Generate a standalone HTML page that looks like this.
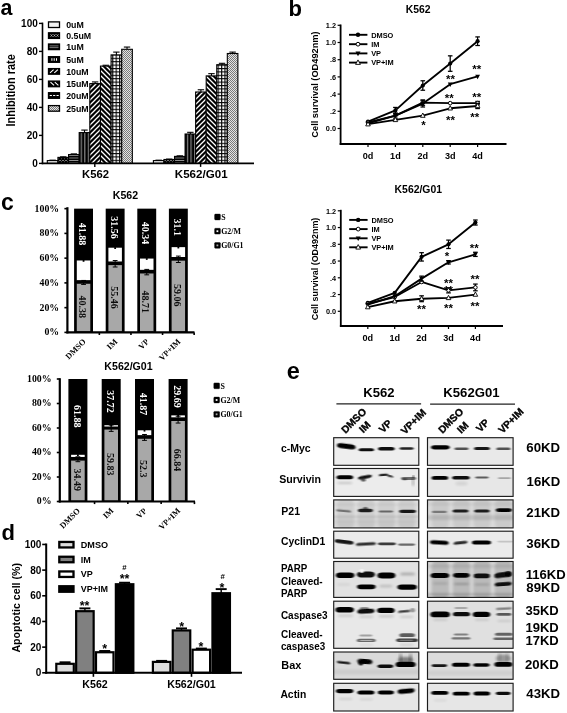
<!DOCTYPE html>
<html><head><meta charset="utf-8"><title>Figure</title>
<style>
html,body{margin:0;padding:0;background:#fff;}
svg{display:block;}
.s{font-family:'Liberation Sans',Arial,sans-serif;font-weight:bold;}
.t{font-family:'Liberation Serif','Times New Roman',serif;font-weight:bold;}
</style></head><body>
<svg width="567" height="713" viewBox="0 0 567 713">
<defs>
<pattern id="pCross" width="3" height="3" patternUnits="userSpaceOnUse"><rect width="3" height="3" fill="#ddd"/><path d="M0 0L3 3M3 0L0 3" stroke="#000" stroke-width="1.35"/></pattern>
<pattern id="pHor" width="3" height="2.4" patternUnits="userSpaceOnUse"><rect width="3" height="2.4" fill="#bbb"/><rect width="3" height="1.7" fill="#000"/></pattern>
<pattern id="pVer" width="3.54" height="3" patternUnits="userSpaceOnUse" x="1.9"><rect width="3.54" height="3" fill="#000"/><rect x="1.2" width="0.8" height="3" fill="#ccc"/></pattern>
<pattern id="pDiagUp" width="5" height="5" patternUnits="userSpaceOnUse"><rect width="5" height="5" fill="#000"/><path d="M-1 6L6 -1M-1 1L1 -1M4 6L6 4" stroke="#fff" stroke-width="1.3"/></pattern>
<pattern id="pDiagDn" width="5" height="5" patternUnits="userSpaceOnUse"><rect width="5" height="5" fill="#000"/><path d="M-1 -1L6 6M-1 4L1 6M4 -1L6 1" stroke="#fff" stroke-width="1.3"/></pattern>
<pattern id="pGrid" width="3.4" height="3.4" patternUnits="userSpaceOnUse"><rect width="3.4" height="3.4" fill="#fff"/><path d="M0 0.6H3.4M0.6 0V3.4" stroke="#000" stroke-width="1.1"/></pattern>
<pattern id="pDots" width="2" height="2" patternUnits="userSpaceOnUse"><rect width="2" height="2" fill="#e4e4e4"/><rect width="1" height="1" fill="#7a7a7a"/><rect x="1" y="1" width="1" height="1" fill="#7a7a7a"/></pattern>
<filter id="bl" x="-20%" y="-100%" width="140%" height="300%"><feGaussianBlur stdDeviation="0.85 0.6"/></filter>
<filter id="bl2" x="-20%" y="-100%" width="140%" height="300%"><feGaussianBlur stdDeviation="1.6 1.2"/></filter>
<filter id="soft"><feGaussianBlur stdDeviation="0.35"/></filter>
<linearGradient id="bg1" x1="0" y1="0" x2="0" y2="1"><stop offset="0" stop-color="#ececec"/><stop offset="1" stop-color="#e0e0e0"/></linearGradient>
</defs>
<rect width="567" height="713" fill="#fff"/>
<g filter="url(#soft)">

<g id="panel-a">
<text x="0.60" y="14.50" font-size="21.4" class="s">a</text>
<rect x="47.30" y="160.60" width="10.63" height="2.80" fill="#f4f4f4" stroke="#000" stroke-width="1.1"/>
<line x1="52.61" y1="160.60" x2="52.61" y2="160.18" stroke="#000" stroke-width="1.1"/>
<line x1="49.41" y1="160.18" x2="55.81" y2="160.18" stroke="#000" stroke-width="1.1"/>
<rect x="57.93" y="157.38" width="10.63" height="6.02" fill="url(#pCross)" stroke="#000" stroke-width="1.1"/>
<line x1="63.24" y1="157.38" x2="63.24" y2="156.82" stroke="#000" stroke-width="1.1"/>
<line x1="60.04" y1="156.82" x2="66.44" y2="156.82" stroke="#000" stroke-width="1.1"/>
<rect x="68.56" y="154.58" width="10.63" height="8.82" fill="url(#pHor)" stroke="#000" stroke-width="1.1"/>
<line x1="73.88" y1="154.58" x2="73.88" y2="153.88" stroke="#000" stroke-width="1.1"/>
<line x1="70.67" y1="153.88" x2="77.08" y2="153.88" stroke="#000" stroke-width="1.1"/>
<rect x="79.19" y="132.60" width="10.63" height="30.80" fill="url(#pVer)" stroke="#000" stroke-width="1.1"/>
<line x1="84.50" y1="132.60" x2="84.50" y2="130.08" stroke="#000" stroke-width="1.1"/>
<line x1="81.30" y1="130.08" x2="87.70" y2="130.08" stroke="#000" stroke-width="1.1"/>
<rect x="89.82" y="83.60" width="10.63" height="79.80" fill="url(#pDiagUp)" stroke="#000" stroke-width="1.1"/>
<line x1="95.13" y1="83.60" x2="95.13" y2="81.92" stroke="#000" stroke-width="1.1"/>
<line x1="91.93" y1="81.92" x2="98.33" y2="81.92" stroke="#000" stroke-width="1.1"/>
<rect x="100.45" y="66.10" width="10.63" height="97.30" fill="url(#pDiagDn)" stroke="#000" stroke-width="1.1"/>
<line x1="105.77" y1="66.10" x2="105.77" y2="65.26" stroke="#000" stroke-width="1.1"/>
<line x1="102.56" y1="65.26" x2="108.97" y2="65.26" stroke="#000" stroke-width="1.1"/>
<rect x="111.08" y="54.90" width="10.63" height="108.50" fill="url(#pGrid)" stroke="#000" stroke-width="1.1"/>
<line x1="116.39" y1="54.90" x2="116.39" y2="52.10" stroke="#000" stroke-width="1.1"/>
<line x1="113.19" y1="52.10" x2="119.59" y2="52.10" stroke="#000" stroke-width="1.1"/>
<rect x="121.71" y="49.30" width="10.63" height="114.10" fill="url(#pDots)" stroke="#000" stroke-width="1.1"/>
<line x1="127.03" y1="49.30" x2="127.03" y2="47.06" stroke="#000" stroke-width="1.1"/>
<line x1="123.83" y1="47.06" x2="130.22" y2="47.06" stroke="#000" stroke-width="1.1"/>
<rect x="153.40" y="160.60" width="10.56" height="2.80" fill="#f4f4f4" stroke="#000" stroke-width="1.1"/>
<line x1="158.68" y1="160.60" x2="158.68" y2="160.18" stroke="#000" stroke-width="1.1"/>
<line x1="155.48" y1="160.18" x2="161.88" y2="160.18" stroke="#000" stroke-width="1.1"/>
<rect x="163.96" y="159.48" width="10.56" height="3.92" fill="url(#pCross)" stroke="#000" stroke-width="1.1"/>
<line x1="169.24" y1="159.48" x2="169.24" y2="159.06" stroke="#000" stroke-width="1.1"/>
<line x1="166.04" y1="159.06" x2="172.44" y2="159.06" stroke="#000" stroke-width="1.1"/>
<rect x="174.52" y="156.40" width="10.56" height="7.00" fill="url(#pHor)" stroke="#000" stroke-width="1.1"/>
<line x1="179.80" y1="156.40" x2="179.80" y2="155.84" stroke="#000" stroke-width="1.1"/>
<line x1="176.60" y1="155.84" x2="183.00" y2="155.84" stroke="#000" stroke-width="1.1"/>
<rect x="185.08" y="134.00" width="10.56" height="29.40" fill="url(#pVer)" stroke="#000" stroke-width="1.1"/>
<line x1="190.36" y1="134.00" x2="190.36" y2="132.32" stroke="#000" stroke-width="1.1"/>
<line x1="187.16" y1="132.32" x2="193.56" y2="132.32" stroke="#000" stroke-width="1.1"/>
<rect x="195.64" y="92.00" width="10.56" height="71.40" fill="url(#pDiagUp)" stroke="#000" stroke-width="1.1"/>
<line x1="200.92" y1="92.00" x2="200.92" y2="89.76" stroke="#000" stroke-width="1.1"/>
<line x1="197.72" y1="89.76" x2="204.12" y2="89.76" stroke="#000" stroke-width="1.1"/>
<rect x="206.20" y="75.90" width="10.56" height="87.50" fill="url(#pDiagDn)" stroke="#000" stroke-width="1.1"/>
<line x1="211.48" y1="75.90" x2="211.48" y2="73.66" stroke="#000" stroke-width="1.1"/>
<line x1="208.28" y1="73.66" x2="214.68" y2="73.66" stroke="#000" stroke-width="1.1"/>
<rect x="216.76" y="64.70" width="10.56" height="98.70" fill="url(#pGrid)" stroke="#000" stroke-width="1.1"/>
<line x1="222.04" y1="64.70" x2="222.04" y2="63.30" stroke="#000" stroke-width="1.1"/>
<line x1="218.84" y1="63.30" x2="225.24" y2="63.30" stroke="#000" stroke-width="1.1"/>
<rect x="227.32" y="53.50" width="10.56" height="109.90" fill="url(#pDots)" stroke="#000" stroke-width="1.1"/>
<line x1="232.60" y1="53.50" x2="232.60" y2="52.10" stroke="#000" stroke-width="1.1"/>
<line x1="229.40" y1="52.10" x2="235.80" y2="52.10" stroke="#000" stroke-width="1.1"/>
<line x1="42.50" y1="22.60" x2="42.50" y2="164.20" stroke="#000" stroke-width="1.6"/>
<line x1="41.70" y1="163.40" x2="254.00" y2="163.40" stroke="#000" stroke-width="1.6"/>
<line x1="39.00" y1="163.40" x2="42.50" y2="163.40" stroke="#000" stroke-width="1.4"/>
<text x="37.80" y="166.90" font-size="10" class="s" text-anchor="end">0</text>
<line x1="39.00" y1="135.40" x2="42.50" y2="135.40" stroke="#000" stroke-width="1.4"/>
<text x="37.80" y="138.90" font-size="10" class="s" text-anchor="end">20</text>
<line x1="39.00" y1="107.40" x2="42.50" y2="107.40" stroke="#000" stroke-width="1.4"/>
<text x="37.80" y="110.90" font-size="10" class="s" text-anchor="end">40</text>
<line x1="39.00" y1="79.40" x2="42.50" y2="79.40" stroke="#000" stroke-width="1.4"/>
<text x="37.80" y="82.90" font-size="10" class="s" text-anchor="end">60</text>
<line x1="39.00" y1="51.40" x2="42.50" y2="51.40" stroke="#000" stroke-width="1.4"/>
<text x="37.80" y="54.90" font-size="10" class="s" text-anchor="end">80</text>
<line x1="39.00" y1="23.40" x2="42.50" y2="23.40" stroke="#000" stroke-width="1.4"/>
<text x="37.80" y="26.90" font-size="10" class="s" text-anchor="end">100</text>
<line x1="94.80" y1="163.40" x2="94.80" y2="166.90" stroke="#000" stroke-width="1.4"/>
<line x1="200.60" y1="163.40" x2="200.60" y2="166.90" stroke="#000" stroke-width="1.4"/>
<text x="95.50" y="177.60" font-size="11.3" class="s" text-anchor="middle" textLength="27" lengthAdjust="spacingAndGlyphs">K562</text>
<text x="201.20" y="177.60" font-size="11.3" class="s" text-anchor="middle" textLength="52.8" lengthAdjust="spacingAndGlyphs">K562/G01</text>
<text x="14.60" y="90.40" font-size="12.0" class="s" text-anchor="middle" transform="rotate(-90 14.60 90.40)" textLength="72.2" lengthAdjust="spacingAndGlyphs">Inhibition rate</text>
<rect x="48.50" y="21.90" width="11.00" height="5.60" fill="#f4f4f4" stroke="#000" stroke-width="1.3"/>
<text x="66.20" y="27.80" font-size="8.8" class="s">0uM</text>
<rect x="48.50" y="32.80" width="11.00" height="5.60" fill="#000" stroke="#000" stroke-width="1.3"/>
<path d="M50.5 34.300000000000004l2 2.4M52.5 34.300000000000004l-2 2.4M53.5 34.300000000000004l2 2.4M55.5 34.300000000000004l-2 2.4M56.5 34.300000000000004l2 2.4M58.5 34.300000000000004l-2 2.4" stroke="#bbb" stroke-width="0.8" fill="none"/>
<text x="66.20" y="38.70" font-size="8.8" class="s">0.5uM</text>
<rect x="48.50" y="44.00" width="11.00" height="5.60" fill="#000" stroke="#000" stroke-width="1.3"/>
<path d="M49.5 45.9h9.0M49.5 47.6h9.0" stroke="#aaa" stroke-width="0.7" fill="none"/>
<text x="66.20" y="49.90" font-size="8.8" class="s">1uM</text>
<rect x="48.50" y="56.70" width="11.00" height="5.60" fill="#000" stroke="#000" stroke-width="1.3"/>
<path d="M51.9 58.2v2.6M54.2 58.2v2.6M56.5 58.2v2.6" stroke="#fff" stroke-width="1.0" fill="none"/>
<text x="66.20" y="62.60" font-size="8.8" class="s">5uM</text>
<rect x="48.50" y="68.60" width="11.00" height="5.60" fill="#000" stroke="#000" stroke-width="1.3"/>
<path d="M50.0 72.9l3.6 -3.2M54.3 72.9l3.6 -3.2" stroke="#fff" stroke-width="1.1" fill="none"/>
<text x="66.20" y="74.50" font-size="8.8" class="s">10uM</text>
<rect x="48.50" y="81.10" width="11.00" height="5.60" fill="#000" stroke="#000" stroke-width="1.3"/>
<path d="M50.5 82.2l3.6 3.2M54.8 82.2l3.6 3.2" stroke="#fff" stroke-width="1.1" fill="none"/>
<text x="66.20" y="87.00" font-size="8.8" class="s">15uM</text>
<rect x="48.50" y="92.70" width="11.00" height="5.60" fill="#000" stroke="#000" stroke-width="1.3"/>
<path d="M49.7 95.5h2.2M53.1 95.5h2.2M56.5 95.5h2.2" stroke="#fff" stroke-width="1.2" fill="none"/>
<text x="66.20" y="98.60" font-size="8.8" class="s">20uM</text>
<rect x="48.50" y="105.60" width="11.00" height="5.60" fill="url(#pDots)" stroke="#000" stroke-width="1.3"/>
<text x="66.20" y="111.50" font-size="8.8" class="s">25uM</text>
</g>
<text x="288.60" y="16.40" font-size="22" class="s">b</text>
<g>
<text x="418.20" y="13.20" font-size="10.4" class="s" text-anchor="middle">K562</text>
<line x1="340.60" y1="24.50" x2="340.60" y2="144.90" stroke="#000" stroke-width="1.8"/>
<line x1="339.70" y1="144.00" x2="506.50" y2="144.00" stroke="#000" stroke-width="1.8"/>
<line x1="337.60" y1="128.50" x2="340.60" y2="128.50" stroke="#000" stroke-width="1.2"/>
<text x="336.00" y="131.20" font-size="7.3" class="s" text-anchor="end">0.0</text>
<line x1="337.60" y1="111.30" x2="340.60" y2="111.30" stroke="#000" stroke-width="1.2"/>
<text x="336.00" y="114.00" font-size="7.3" class="s" text-anchor="end">.2</text>
<line x1="337.60" y1="94.10" x2="340.60" y2="94.10" stroke="#000" stroke-width="1.2"/>
<text x="336.00" y="96.80" font-size="7.3" class="s" text-anchor="end">.4</text>
<line x1="337.60" y1="76.90" x2="340.60" y2="76.90" stroke="#000" stroke-width="1.2"/>
<text x="336.00" y="79.60" font-size="7.3" class="s" text-anchor="end">.6</text>
<line x1="337.60" y1="59.70" x2="340.60" y2="59.70" stroke="#000" stroke-width="1.2"/>
<text x="336.00" y="62.40" font-size="7.3" class="s" text-anchor="end">.8</text>
<line x1="337.60" y1="42.50" x2="340.60" y2="42.50" stroke="#000" stroke-width="1.2"/>
<text x="336.00" y="45.20" font-size="7.3" class="s" text-anchor="end">1.0</text>
<line x1="337.60" y1="25.30" x2="340.60" y2="25.30" stroke="#000" stroke-width="1.2"/>
<text x="336.00" y="28.00" font-size="7.3" class="s" text-anchor="end">1.2</text>
<line x1="368.00" y1="144.00" x2="368.00" y2="147.00" stroke="#000" stroke-width="1.2"/>
<text x="368.00" y="158.90" font-size="9.1" class="s" text-anchor="middle">0d</text>
<line x1="395.40" y1="144.00" x2="395.40" y2="147.00" stroke="#000" stroke-width="1.2"/>
<text x="395.40" y="158.90" font-size="9.1" class="s" text-anchor="middle">1d</text>
<line x1="422.80" y1="144.00" x2="422.80" y2="147.00" stroke="#000" stroke-width="1.2"/>
<text x="422.80" y="158.90" font-size="9.1" class="s" text-anchor="middle">2d</text>
<line x1="450.20" y1="144.00" x2="450.20" y2="147.00" stroke="#000" stroke-width="1.2"/>
<text x="450.20" y="158.90" font-size="9.1" class="s" text-anchor="middle">3d</text>
<line x1="477.60" y1="144.00" x2="477.60" y2="147.00" stroke="#000" stroke-width="1.2"/>
<text x="477.60" y="158.90" font-size="9.1" class="s" text-anchor="middle">4d</text>
<text x="318.00" y="84.50" font-size="8.7" class="s" text-anchor="middle" transform="rotate(-90 318.00 84.50)" textLength="106.3" lengthAdjust="spacingAndGlyphs">Cell survival (OD492nm)</text>
<polyline points="368.00,121.62 395.40,110.44 422.80,85.50 450.20,63.57 477.60,41.21" fill="none" stroke="#000" stroke-width="1.85" stroke-linejoin="round"/>
<line x1="395.40" y1="113.45" x2="395.40" y2="107.43" stroke="#000" stroke-width="1.25"/>
<line x1="393.10" y1="107.43" x2="397.70" y2="107.43" stroke="#000" stroke-width="1.25"/>
<line x1="393.10" y1="113.45" x2="397.70" y2="113.45" stroke="#000" stroke-width="1.25"/>
<line x1="422.80" y1="90.23" x2="422.80" y2="80.77" stroke="#000" stroke-width="1.25"/>
<line x1="420.50" y1="80.77" x2="425.10" y2="80.77" stroke="#000" stroke-width="1.25"/>
<line x1="420.50" y1="90.23" x2="425.10" y2="90.23" stroke="#000" stroke-width="1.25"/>
<line x1="450.20" y1="71.31" x2="450.20" y2="55.83" stroke="#000" stroke-width="1.25"/>
<line x1="447.90" y1="55.83" x2="452.50" y2="55.83" stroke="#000" stroke-width="1.25"/>
<line x1="447.90" y1="71.31" x2="452.50" y2="71.31" stroke="#000" stroke-width="1.25"/>
<line x1="477.60" y1="45.51" x2="477.60" y2="36.91" stroke="#000" stroke-width="1.25"/>
<line x1="475.30" y1="36.91" x2="479.90" y2="36.91" stroke="#000" stroke-width="1.25"/>
<line x1="475.30" y1="45.51" x2="479.90" y2="45.51" stroke="#000" stroke-width="1.25"/>
<circle cx="368.00" cy="121.62" r="2.1" fill="#000"/>
<circle cx="395.40" cy="110.44" r="2.1" fill="#000"/>
<circle cx="422.80" cy="85.50" r="2.1" fill="#000"/>
<circle cx="450.20" cy="63.57" r="2.1" fill="#000"/>
<circle cx="477.60" cy="41.21" r="2.1" fill="#000"/>
<polyline points="368.00,122.48 395.40,115.60 422.80,102.70 450.20,103.13 477.60,103.13" fill="none" stroke="#000" stroke-width="1.85" stroke-linejoin="round"/>
<line x1="422.80" y1="105.28" x2="422.80" y2="100.12" stroke="#000" stroke-width="1.25"/>
<line x1="420.50" y1="100.12" x2="425.10" y2="100.12" stroke="#000" stroke-width="1.25"/>
<line x1="420.50" y1="105.28" x2="425.10" y2="105.28" stroke="#000" stroke-width="1.25"/>
<line x1="477.60" y1="104.85" x2="477.60" y2="101.41" stroke="#000" stroke-width="1.25"/>
<line x1="475.30" y1="101.41" x2="479.90" y2="101.41" stroke="#000" stroke-width="1.25"/>
<line x1="475.30" y1="104.85" x2="479.90" y2="104.85" stroke="#000" stroke-width="1.25"/>
<circle cx="368.00" cy="122.48" r="1.8" fill="#fff" stroke="#000" stroke-width="1"/>
<circle cx="395.40" cy="115.60" r="1.8" fill="#fff" stroke="#000" stroke-width="1"/>
<circle cx="422.80" cy="102.70" r="1.8" fill="#fff" stroke="#000" stroke-width="1"/>
<circle cx="450.20" cy="103.13" r="1.8" fill="#fff" stroke="#000" stroke-width="1"/>
<circle cx="477.60" cy="103.13" r="1.8" fill="#fff" stroke="#000" stroke-width="1"/>
<polyline points="368.00,123.34 395.40,115.60 422.80,103.56 450.20,84.21 477.60,76.47" fill="none" stroke="#000" stroke-width="1.85" stroke-linejoin="round"/>
<line x1="395.40" y1="118.18" x2="395.40" y2="113.02" stroke="#000" stroke-width="1.25"/>
<line x1="393.10" y1="113.02" x2="397.70" y2="113.02" stroke="#000" stroke-width="1.25"/>
<line x1="393.10" y1="118.18" x2="397.70" y2="118.18" stroke="#000" stroke-width="1.25"/>
<line x1="422.80" y1="107.00" x2="422.80" y2="100.12" stroke="#000" stroke-width="1.25"/>
<line x1="420.50" y1="100.12" x2="425.10" y2="100.12" stroke="#000" stroke-width="1.25"/>
<line x1="420.50" y1="107.00" x2="425.10" y2="107.00" stroke="#000" stroke-width="1.25"/>
<path d="M365.60 121.54H370.40L368.00 126.04Z" fill="#000"/>
<path d="M393.00 113.80H397.80L395.40 118.30Z" fill="#000"/>
<path d="M420.40 101.76H425.20L422.80 106.26Z" fill="#000"/>
<path d="M447.80 82.41H452.60L450.20 86.91Z" fill="#000"/>
<path d="M475.20 74.67H480.00L477.60 79.17Z" fill="#000"/>
<polyline points="368.00,124.20 395.40,119.90 422.80,115.60 450.20,108.29 477.60,105.97" fill="none" stroke="#000" stroke-width="1.85" stroke-linejoin="round"/>
<line x1="477.60" y1="108.55" x2="477.60" y2="103.39" stroke="#000" stroke-width="1.25"/>
<line x1="475.30" y1="103.39" x2="479.90" y2="103.39" stroke="#000" stroke-width="1.25"/>
<line x1="475.30" y1="108.55" x2="479.90" y2="108.55" stroke="#000" stroke-width="1.25"/>
<path d="M365.70 125.90H370.30L368.00 121.60Z" fill="#fff" stroke="#000" stroke-width="0.9"/>
<path d="M393.10 121.60H397.70L395.40 117.30Z" fill="#fff" stroke="#000" stroke-width="0.9"/>
<path d="M420.50 117.30H425.10L422.80 113.00Z" fill="#fff" stroke="#000" stroke-width="0.9"/>
<path d="M447.90 109.99H452.50L450.20 105.69Z" fill="#fff" stroke="#000" stroke-width="0.9"/>
<path d="M475.30 107.67H479.90L477.60 103.37Z" fill="#fff" stroke="#000" stroke-width="0.9"/>
<line x1="349.00" y1="34.80" x2="367.40" y2="34.80" stroke="#000" stroke-width="1.9"/>
<circle cx="358.00" cy="34.80" r="2.2" fill="#000"/>
<text x="371.20" y="37.50" font-size="7.4" class="s">DMSO</text>
<line x1="349.00" y1="44.20" x2="367.40" y2="44.20" stroke="#000" stroke-width="1.9"/>
<circle cx="358.00" cy="44.20" r="1.9000000000000001" fill="#fff" stroke="#000" stroke-width="1"/>
<text x="371.20" y="46.90" font-size="7.4" class="s">IM</text>
<line x1="349.00" y1="53.40" x2="367.40" y2="53.40" stroke="#000" stroke-width="1.9"/>
<path d="M355.50 51.50H360.50L358.00 56.20Z" fill="#000"/>
<text x="371.20" y="56.10" font-size="7.4" class="s">VP</text>
<line x1="349.00" y1="62.60" x2="367.40" y2="62.60" stroke="#000" stroke-width="1.9"/>
<path d="M355.60 64.40H360.40L358.00 59.90Z" fill="#fff" stroke="#000" stroke-width="0.9"/>
<text x="371.20" y="65.30" font-size="7.4" class="s">VP+IM</text>
<text x="450.50" y="83.30" font-size="11.5" class="s" text-anchor="middle">**</text>
<text x="476.80" y="73.30" font-size="11.5" class="s" text-anchor="middle">**</text>
<text x="449.20" y="101.80" font-size="11.5" class="s" text-anchor="middle">**</text>
<text x="476.80" y="101.30" font-size="11.5" class="s" text-anchor="middle">**</text>
<text x="450.50" y="123.80" font-size="11.5" class="s" text-anchor="middle">**</text>
<text x="474.80" y="121.30" font-size="11.5" class="s" text-anchor="middle">**</text>
<text x="423.50" y="129.30" font-size="11.5" class="s" text-anchor="middle">*</text>
</g>
<g>
<text x="418.30" y="193.10" font-size="10.4" class="s" text-anchor="middle">K562/G01</text>
<line x1="340.80" y1="209.80" x2="340.80" y2="326.90" stroke="#000" stroke-width="1.8"/>
<line x1="339.90" y1="326.00" x2="503.00" y2="326.00" stroke="#000" stroke-width="1.8"/>
<line x1="337.80" y1="311.30" x2="340.80" y2="311.30" stroke="#000" stroke-width="1.2"/>
<text x="336.20" y="314.00" font-size="7.3" class="s" text-anchor="end">0.0</text>
<line x1="337.80" y1="294.55" x2="340.80" y2="294.55" stroke="#000" stroke-width="1.2"/>
<text x="336.20" y="297.25" font-size="7.3" class="s" text-anchor="end">.2</text>
<line x1="337.80" y1="277.80" x2="340.80" y2="277.80" stroke="#000" stroke-width="1.2"/>
<text x="336.20" y="280.50" font-size="7.3" class="s" text-anchor="end">.4</text>
<line x1="337.80" y1="261.05" x2="340.80" y2="261.05" stroke="#000" stroke-width="1.2"/>
<text x="336.20" y="263.75" font-size="7.3" class="s" text-anchor="end">.6</text>
<line x1="337.80" y1="244.30" x2="340.80" y2="244.30" stroke="#000" stroke-width="1.2"/>
<text x="336.20" y="247.00" font-size="7.3" class="s" text-anchor="end">.8</text>
<line x1="337.80" y1="227.55" x2="340.80" y2="227.55" stroke="#000" stroke-width="1.2"/>
<text x="336.20" y="230.25" font-size="7.3" class="s" text-anchor="end">1.0</text>
<line x1="337.80" y1="210.80" x2="340.80" y2="210.80" stroke="#000" stroke-width="1.2"/>
<text x="336.20" y="213.50" font-size="7.3" class="s" text-anchor="end">1.2</text>
<line x1="367.80" y1="326.00" x2="367.80" y2="329.00" stroke="#000" stroke-width="1.2"/>
<text x="367.80" y="340.90" font-size="9.1" class="s" text-anchor="middle">0d</text>
<line x1="394.70" y1="326.00" x2="394.70" y2="329.00" stroke="#000" stroke-width="1.2"/>
<text x="394.70" y="340.90" font-size="9.1" class="s" text-anchor="middle">1d</text>
<line x1="421.60" y1="326.00" x2="421.60" y2="329.00" stroke="#000" stroke-width="1.2"/>
<text x="421.60" y="340.90" font-size="9.1" class="s" text-anchor="middle">2d</text>
<line x1="448.50" y1="326.00" x2="448.50" y2="329.00" stroke="#000" stroke-width="1.2"/>
<text x="448.50" y="340.90" font-size="9.1" class="s" text-anchor="middle">3d</text>
<line x1="475.40" y1="326.00" x2="475.40" y2="329.00" stroke="#000" stroke-width="1.2"/>
<text x="475.40" y="340.90" font-size="9.1" class="s" text-anchor="middle">4d</text>
<text x="318.20" y="269.00" font-size="8.7" class="s" text-anchor="middle" transform="rotate(-90 318.20 269.00)" textLength="102.6" lengthAdjust="spacingAndGlyphs">Cell survival (OD492nm)</text>
<polyline points="367.80,302.93 394.70,292.88 421.60,256.86 448.50,244.30 475.40,222.53" fill="none" stroke="#000" stroke-width="1.85" stroke-linejoin="round"/>
<line x1="421.60" y1="261.05" x2="421.60" y2="252.68" stroke="#000" stroke-width="1.25"/>
<line x1="419.30" y1="252.68" x2="423.90" y2="252.68" stroke="#000" stroke-width="1.25"/>
<line x1="419.30" y1="261.05" x2="423.90" y2="261.05" stroke="#000" stroke-width="1.25"/>
<line x1="448.50" y1="248.49" x2="448.50" y2="240.11" stroke="#000" stroke-width="1.25"/>
<line x1="446.20" y1="240.11" x2="450.80" y2="240.11" stroke="#000" stroke-width="1.25"/>
<line x1="446.20" y1="248.49" x2="450.80" y2="248.49" stroke="#000" stroke-width="1.25"/>
<line x1="475.40" y1="225.04" x2="475.40" y2="220.01" stroke="#000" stroke-width="1.25"/>
<line x1="473.10" y1="220.01" x2="477.70" y2="220.01" stroke="#000" stroke-width="1.25"/>
<line x1="473.10" y1="225.04" x2="477.70" y2="225.04" stroke="#000" stroke-width="1.25"/>
<circle cx="367.80" cy="302.93" r="2.1" fill="#000"/>
<circle cx="394.70" cy="292.88" r="2.1" fill="#000"/>
<circle cx="421.60" cy="256.86" r="2.1" fill="#000"/>
<circle cx="448.50" cy="244.30" r="2.1" fill="#000"/>
<circle cx="475.40" cy="222.53" r="2.1" fill="#000"/>
<polyline points="367.80,303.76 394.70,297.06 421.60,281.99 448.50,290.36 475.40,287.43" fill="none" stroke="#000" stroke-width="1.85" stroke-linejoin="round"/>
<line x1="448.50" y1="292.88" x2="448.50" y2="287.85" stroke="#000" stroke-width="1.25"/>
<line x1="446.20" y1="287.85" x2="450.80" y2="287.85" stroke="#000" stroke-width="1.25"/>
<line x1="446.20" y1="292.88" x2="450.80" y2="292.88" stroke="#000" stroke-width="1.25"/>
<line x1="475.40" y1="290.78" x2="475.40" y2="284.08" stroke="#000" stroke-width="1.25"/>
<line x1="473.10" y1="284.08" x2="477.70" y2="284.08" stroke="#000" stroke-width="1.25"/>
<line x1="473.10" y1="290.78" x2="477.70" y2="290.78" stroke="#000" stroke-width="1.25"/>
<circle cx="367.80" cy="303.76" r="1.8" fill="#fff" stroke="#000" stroke-width="1"/>
<circle cx="394.70" cy="297.06" r="1.8" fill="#fff" stroke="#000" stroke-width="1"/>
<circle cx="421.60" cy="281.99" r="1.8" fill="#fff" stroke="#000" stroke-width="1"/>
<circle cx="448.50" cy="290.36" r="1.8" fill="#fff" stroke="#000" stroke-width="1"/>
<circle cx="475.40" cy="287.43" r="1.8" fill="#fff" stroke="#000" stroke-width="1"/>
<polyline points="367.80,304.60 394.70,296.23 421.60,278.64 448.50,262.31 475.40,254.35" fill="none" stroke="#000" stroke-width="1.85" stroke-linejoin="round"/>
<line x1="421.60" y1="281.15" x2="421.60" y2="276.12" stroke="#000" stroke-width="1.25"/>
<line x1="419.30" y1="276.12" x2="423.90" y2="276.12" stroke="#000" stroke-width="1.25"/>
<line x1="419.30" y1="281.15" x2="423.90" y2="281.15" stroke="#000" stroke-width="1.25"/>
<line x1="448.50" y1="263.98" x2="448.50" y2="260.63" stroke="#000" stroke-width="1.25"/>
<line x1="446.20" y1="260.63" x2="450.80" y2="260.63" stroke="#000" stroke-width="1.25"/>
<line x1="446.20" y1="263.98" x2="450.80" y2="263.98" stroke="#000" stroke-width="1.25"/>
<line x1="475.40" y1="256.44" x2="475.40" y2="252.26" stroke="#000" stroke-width="1.25"/>
<line x1="473.10" y1="252.26" x2="477.70" y2="252.26" stroke="#000" stroke-width="1.25"/>
<line x1="473.10" y1="256.44" x2="477.70" y2="256.44" stroke="#000" stroke-width="1.25"/>
<path d="M365.40 302.80H370.20L367.80 307.30Z" fill="#000"/>
<path d="M392.30 294.43H397.10L394.70 298.93Z" fill="#000"/>
<path d="M419.20 276.84H424.00L421.60 281.34Z" fill="#000"/>
<path d="M446.10 260.51H450.90L448.50 265.01Z" fill="#000"/>
<path d="M473.00 252.55H477.80L475.40 257.05Z" fill="#000"/>
<polyline points="367.80,307.11 394.70,301.25 421.60,298.74 448.50,297.90 475.40,294.55" fill="none" stroke="#000" stroke-width="1.85" stroke-linejoin="round"/>
<line x1="421.60" y1="301.67" x2="421.60" y2="295.81" stroke="#000" stroke-width="1.25"/>
<line x1="419.30" y1="295.81" x2="423.90" y2="295.81" stroke="#000" stroke-width="1.25"/>
<line x1="419.30" y1="301.67" x2="423.90" y2="301.67" stroke="#000" stroke-width="1.25"/>
<path d="M365.50 308.81H370.10L367.80 304.51Z" fill="#fff" stroke="#000" stroke-width="0.9"/>
<path d="M392.40 302.95H397.00L394.70 298.65Z" fill="#fff" stroke="#000" stroke-width="0.9"/>
<path d="M419.30 300.44H423.90L421.60 296.14Z" fill="#fff" stroke="#000" stroke-width="0.9"/>
<path d="M446.20 299.60H450.80L448.50 295.30Z" fill="#fff" stroke="#000" stroke-width="0.9"/>
<path d="M473.10 296.25H477.70L475.40 291.95Z" fill="#fff" stroke="#000" stroke-width="0.9"/>
<line x1="349.20" y1="219.90" x2="367.60" y2="219.90" stroke="#000" stroke-width="1.9"/>
<circle cx="358.20" cy="219.90" r="2.2" fill="#000"/>
<text x="371.40" y="222.60" font-size="7.4" class="s">DMSO</text>
<line x1="349.20" y1="229.10" x2="367.60" y2="229.10" stroke="#000" stroke-width="1.9"/>
<circle cx="358.20" cy="229.10" r="1.9000000000000001" fill="#fff" stroke="#000" stroke-width="1"/>
<text x="371.40" y="231.80" font-size="7.4" class="s">IM</text>
<line x1="349.20" y1="238.30" x2="367.60" y2="238.30" stroke="#000" stroke-width="1.9"/>
<path d="M355.70 236.40H360.70L358.20 241.10Z" fill="#000"/>
<text x="371.40" y="241.00" font-size="7.4" class="s">VP</text>
<line x1="349.20" y1="247.30" x2="367.60" y2="247.30" stroke="#000" stroke-width="1.9"/>
<path d="M355.80 249.10H360.60L358.20 244.60Z" fill="#fff" stroke="#000" stroke-width="0.9"/>
<text x="371.40" y="250.00" font-size="7.4" class="s">VP+IM</text>
<text x="447.00" y="260.10" font-size="11.5" class="s" text-anchor="middle">*</text>
<text x="474.20" y="252.40" font-size="11.5" class="s" text-anchor="middle">**</text>
<text x="448.50" y="286.90" font-size="11.5" class="s" text-anchor="middle">**</text>
<text x="475.00" y="283.10" font-size="11.5" class="s" text-anchor="middle">**</text>
<text x="421.50" y="312.70" font-size="11.5" class="s" text-anchor="middle">**</text>
<text x="448.50" y="312.40" font-size="11.5" class="s" text-anchor="middle">**</text>
<text x="475.00" y="309.80" font-size="11.5" class="s" text-anchor="middle">**</text>
<text x="448.50" y="293.90" font-size="11.5" class="s" text-anchor="middle">**</text>
</g>
<text x="0.90" y="209.90" font-size="23" class="s">c</text>
<g>
<text x="125.50" y="199.20" font-size="10.6" class="s" text-anchor="middle">K562</text>
<rect x="74.10" y="208.65" width="18.90" height="123.75" fill="#000" stroke="none" stroke-width="0"/>
<rect x="76.80" y="260.48" width="13.50" height="19.66" fill="#fff" stroke="none" stroke-width="0"/>
<rect x="76.80" y="283.78" width="13.50" height="47.62" fill="#a8a8a8" stroke="none" stroke-width="0"/>
<text x="79.25" y="306.81" font-size="10" class="t" text-anchor="middle" fill="#111" transform="rotate(90 79.25 306.81)">40.38</text>
<text x="79.25" y="233.96" font-size="10" class="t" text-anchor="middle" fill="#fff" transform="rotate(90 79.25 233.96)">41.88</text>
<line x1="83.55" y1="284.41" x2="83.55" y2="280.45" stroke="#000" stroke-width="1"/>
<line x1="81.15" y1="280.45" x2="85.95" y2="280.45" stroke="#000" stroke-width="1"/>
<line x1="81.15" y1="284.41" x2="85.95" y2="284.41" stroke="#000" stroke-width="1"/>
<line x1="83.55" y1="259.98" x2="83.55" y2="261.78" stroke="#000" stroke-width="1.8"/>
<rect x="105.70" y="208.65" width="18.90" height="123.75" fill="#000" stroke="none" stroke-width="0"/>
<rect x="108.40" y="247.71" width="13.50" height="13.77" fill="#fff" stroke="none" stroke-width="0"/>
<rect x="108.40" y="265.12" width="13.50" height="66.28" fill="#a8a8a8" stroke="none" stroke-width="0"/>
<text x="110.85" y="297.48" font-size="10" class="t" text-anchor="middle" fill="#111" transform="rotate(90 110.85 297.48)">55.46</text>
<text x="110.85" y="227.58" font-size="10" class="t" text-anchor="middle" fill="#fff" transform="rotate(90 110.85 227.58)">31.56</text>
<line x1="115.15" y1="266.99" x2="115.15" y2="260.55" stroke="#000" stroke-width="1"/>
<line x1="112.75" y1="260.55" x2="117.55" y2="260.55" stroke="#000" stroke-width="1"/>
<line x1="112.75" y1="266.99" x2="117.55" y2="266.99" stroke="#000" stroke-width="1"/>
<line x1="115.15" y1="247.21" x2="115.15" y2="249.01" stroke="#000" stroke-width="1.8"/>
<rect x="137.30" y="208.65" width="18.90" height="123.75" fill="#000" stroke="none" stroke-width="0"/>
<rect x="140.00" y="258.57" width="13.50" height="11.26" fill="#fff" stroke="none" stroke-width="0"/>
<rect x="140.00" y="273.47" width="13.50" height="57.93" fill="#a8a8a8" stroke="none" stroke-width="0"/>
<text x="142.45" y="301.66" font-size="10" class="t" text-anchor="middle" fill="#111" transform="rotate(90 142.45 301.66)">48.71</text>
<text x="142.45" y="233.01" font-size="10" class="t" text-anchor="middle" fill="#fff" transform="rotate(90 142.45 233.01)">40.34</text>
<line x1="146.75" y1="274.84" x2="146.75" y2="269.40" stroke="#000" stroke-width="1"/>
<line x1="144.35" y1="269.40" x2="149.15" y2="269.40" stroke="#000" stroke-width="1"/>
<line x1="144.35" y1="274.84" x2="149.15" y2="274.84" stroke="#000" stroke-width="1"/>
<line x1="146.75" y1="258.07" x2="146.75" y2="259.87" stroke="#000" stroke-width="1.8"/>
<rect x="168.90" y="208.65" width="18.90" height="123.75" fill="#000" stroke="none" stroke-width="0"/>
<rect x="171.60" y="247.14" width="13.50" height="9.88" fill="#fff" stroke="none" stroke-width="0"/>
<rect x="171.60" y="260.66" width="13.50" height="70.74" fill="#a8a8a8" stroke="none" stroke-width="0"/>
<text x="174.05" y="295.26" font-size="10" class="t" text-anchor="middle" fill="#111" transform="rotate(90 174.05 295.26)">59.06</text>
<text x="174.05" y="227.29" font-size="10" class="t" text-anchor="middle" fill="#fff" transform="rotate(90 174.05 227.29)">31.1</text>
<line x1="178.35" y1="262.53" x2="178.35" y2="256.10" stroke="#000" stroke-width="1"/>
<line x1="175.95" y1="256.10" x2="180.75" y2="256.10" stroke="#000" stroke-width="1"/>
<line x1="175.95" y1="262.53" x2="180.75" y2="262.53" stroke="#000" stroke-width="1"/>
<line x1="178.35" y1="246.64" x2="178.35" y2="248.44" stroke="#000" stroke-width="1.8"/>
<line x1="67.40" y1="207.20" x2="67.40" y2="333.40" stroke="#000" stroke-width="2.2"/>
<line x1="66.40" y1="332.40" x2="194.50" y2="332.40" stroke="#000" stroke-width="2.2"/>
<line x1="64.40" y1="332.40" x2="67.40" y2="332.40" stroke="#000" stroke-width="1.6"/>
<text x="59.10" y="335.30" font-size="9.8" class="t" text-anchor="end">0%</text>
<line x1="64.40" y1="307.65" x2="67.40" y2="307.65" stroke="#000" stroke-width="1.6"/>
<text x="59.10" y="310.55" font-size="9.8" class="t" text-anchor="end">20%</text>
<line x1="64.40" y1="282.90" x2="67.40" y2="282.90" stroke="#000" stroke-width="1.6"/>
<text x="59.10" y="285.80" font-size="9.8" class="t" text-anchor="end">40%</text>
<line x1="64.40" y1="258.15" x2="67.40" y2="258.15" stroke="#000" stroke-width="1.6"/>
<text x="59.10" y="261.05" font-size="9.8" class="t" text-anchor="end">60%</text>
<line x1="64.40" y1="233.40" x2="67.40" y2="233.40" stroke="#000" stroke-width="1.6"/>
<text x="59.10" y="236.30" font-size="9.8" class="t" text-anchor="end">80%</text>
<line x1="64.40" y1="208.65" x2="67.40" y2="208.65" stroke="#000" stroke-width="1.6"/>
<text x="59.10" y="211.55" font-size="9.8" class="t" text-anchor="end">100%</text>
<line x1="99.35" y1="332.40" x2="99.35" y2="335.00" stroke="#000" stroke-width="1.6"/>
<line x1="130.95" y1="332.40" x2="130.95" y2="335.00" stroke="#000" stroke-width="1.6"/>
<line x1="162.55" y1="332.40" x2="162.55" y2="335.00" stroke="#000" stroke-width="1.6"/>
<line x1="194.15" y1="332.40" x2="194.15" y2="335.00" stroke="#000" stroke-width="1.6"/>
<text x="86.35" y="342.20" font-size="8.3" class="t" text-anchor="end" transform="rotate(-45 86.35 342.20)">DMSO</text>
<text x="117.95" y="342.20" font-size="8.3" class="t" text-anchor="end" transform="rotate(-45 117.95 342.20)">IM</text>
<text x="149.55" y="342.20" font-size="8.3" class="t" text-anchor="end" transform="rotate(-45 149.55 342.20)">VP</text>
<text x="181.15" y="342.20" font-size="8.3" class="t" text-anchor="end" transform="rotate(-45 181.15 342.20)">VP+IM</text>
<rect x="214.60" y="214.10" width="5.80" height="5.80" fill="#000" stroke="#000" stroke-width="0.4" rx="0.8"/>
<text x="221.20" y="219.70" font-size="7.9" class="t">S</text>
<rect x="214.60" y="228.30" width="5.80" height="5.80" fill="#000" stroke="#000" stroke-width="0.4" rx="0.8"/>
<rect x="216.50" y="230.30" width="1.80" height="1.80" fill="#fff" stroke="none" stroke-width="0"/>
<text x="221.20" y="233.90" font-size="7.9" class="t">G2/M</text>
<rect x="214.60" y="242.50" width="5.80" height="5.80" fill="#000" stroke="#000" stroke-width="0.4" rx="0.8"/>
<rect x="216.50" y="244.50" width="1.80" height="1.80" fill="#a6a6a6" stroke="none" stroke-width="0"/>
<text x="221.20" y="248.10" font-size="7.9" class="t">G0/G1</text>
</g>
<g>
<text x="128.50" y="369.60" font-size="10.6" class="s" text-anchor="middle">K562/G01</text>
<rect x="68.40" y="379.00" width="19.00" height="122.50" fill="#000" stroke="none" stroke-width="0"/>
<rect x="71.10" y="454.80" width="13.60" height="2.15" fill="#fff" stroke="none" stroke-width="0"/>
<rect x="71.10" y="460.60" width="13.60" height="39.90" fill="#a8a8a8" stroke="none" stroke-width="0"/>
<text x="73.60" y="479.77" font-size="10" class="t" text-anchor="middle" fill="#111" transform="rotate(90 73.60 479.77)">34.49</text>
<text x="73.60" y="416.30" font-size="10" class="t" text-anchor="middle" fill="#fff" transform="rotate(90 73.60 416.30)">61.88</text>
<line x1="77.90" y1="461.70" x2="77.90" y2="456.80" stroke="#000" stroke-width="1"/>
<line x1="75.50" y1="456.80" x2="80.30" y2="456.80" stroke="#000" stroke-width="1"/>
<line x1="75.50" y1="461.70" x2="80.30" y2="461.70" stroke="#000" stroke-width="1"/>
<line x1="77.90" y1="454.30" x2="77.90" y2="456.10" stroke="#000" stroke-width="1.8"/>
<rect x="101.70" y="379.00" width="19.00" height="122.50" fill="#000" stroke="none" stroke-width="0"/>
<rect x="104.40" y="425.21" width="13.60" height="1.30" fill="#fff" stroke="none" stroke-width="0"/>
<rect x="104.40" y="429.56" width="13.60" height="70.94" fill="#a8a8a8" stroke="none" stroke-width="0"/>
<text x="106.90" y="464.25" font-size="10" class="t" text-anchor="middle" fill="#111" transform="rotate(90 106.90 464.25)">59.83</text>
<text x="106.90" y="401.50" font-size="10" class="t" text-anchor="middle" fill="#fff" transform="rotate(90 106.90 401.50)">37.72</text>
<line x1="111.20" y1="431.39" x2="111.20" y2="425.02" stroke="#000" stroke-width="1"/>
<line x1="108.80" y1="425.02" x2="113.60" y2="425.02" stroke="#000" stroke-width="1"/>
<line x1="108.80" y1="431.39" x2="113.60" y2="431.39" stroke="#000" stroke-width="1"/>
<line x1="111.20" y1="424.71" x2="111.20" y2="426.51" stroke="#000" stroke-width="1.8"/>
<rect x="135.00" y="379.00" width="19.00" height="122.50" fill="#000" stroke="none" stroke-width="0"/>
<rect x="137.70" y="430.29" width="13.60" height="4.85" fill="#fff" stroke="none" stroke-width="0"/>
<rect x="137.70" y="438.78" width="13.60" height="61.72" fill="#a8a8a8" stroke="none" stroke-width="0"/>
<text x="140.20" y="468.87" font-size="10" class="t" text-anchor="middle" fill="#111" transform="rotate(90 140.20 468.87)">52.3</text>
<text x="140.20" y="404.05" font-size="10" class="t" text-anchor="middle" fill="#fff" transform="rotate(90 140.20 404.05)">41.87</text>
<line x1="144.50" y1="440.37" x2="144.50" y2="434.49" stroke="#000" stroke-width="1"/>
<line x1="142.10" y1="434.49" x2="146.90" y2="434.49" stroke="#000" stroke-width="1"/>
<line x1="142.10" y1="440.37" x2="146.90" y2="440.37" stroke="#000" stroke-width="1"/>
<line x1="144.50" y1="429.79" x2="144.50" y2="431.59" stroke="#000" stroke-width="1.8"/>
<rect x="168.60" y="379.00" width="19.00" height="122.50" fill="#000" stroke="none" stroke-width="0"/>
<rect x="171.30" y="415.37" width="13.60" height="1.96" fill="#fff" stroke="none" stroke-width="0"/>
<rect x="171.30" y="420.97" width="13.60" height="79.53" fill="#a8a8a8" stroke="none" stroke-width="0"/>
<text x="173.80" y="459.96" font-size="10" class="t" text-anchor="middle" fill="#111" transform="rotate(90 173.80 459.96)">66.84</text>
<text x="173.80" y="396.59" font-size="10" class="t" text-anchor="middle" fill="#fff" transform="rotate(90 173.80 396.59)">29.69</text>
<line x1="178.10" y1="423.05" x2="178.10" y2="416.19" stroke="#000" stroke-width="1"/>
<line x1="175.70" y1="416.19" x2="180.50" y2="416.19" stroke="#000" stroke-width="1"/>
<line x1="175.70" y1="423.05" x2="180.50" y2="423.05" stroke="#000" stroke-width="1"/>
<line x1="178.10" y1="414.87" x2="178.10" y2="416.67" stroke="#000" stroke-width="1.8"/>
<line x1="59.80" y1="378.20" x2="59.80" y2="502.50" stroke="#000" stroke-width="2.2"/>
<line x1="58.80" y1="501.50" x2="195.00" y2="501.50" stroke="#000" stroke-width="2.2"/>
<line x1="56.80" y1="501.50" x2="59.80" y2="501.50" stroke="#000" stroke-width="1.6"/>
<text x="51.50" y="504.40" font-size="9.8" class="t" text-anchor="end">0%</text>
<line x1="56.80" y1="477.00" x2="59.80" y2="477.00" stroke="#000" stroke-width="1.6"/>
<text x="51.50" y="479.90" font-size="9.8" class="t" text-anchor="end">20%</text>
<line x1="56.80" y1="452.50" x2="59.80" y2="452.50" stroke="#000" stroke-width="1.6"/>
<text x="51.50" y="455.40" font-size="9.8" class="t" text-anchor="end">40%</text>
<line x1="56.80" y1="428.00" x2="59.80" y2="428.00" stroke="#000" stroke-width="1.6"/>
<text x="51.50" y="430.90" font-size="9.8" class="t" text-anchor="end">60%</text>
<line x1="56.80" y1="403.50" x2="59.80" y2="403.50" stroke="#000" stroke-width="1.6"/>
<text x="51.50" y="406.40" font-size="9.8" class="t" text-anchor="end">80%</text>
<line x1="56.80" y1="379.00" x2="59.80" y2="379.00" stroke="#000" stroke-width="1.6"/>
<text x="51.50" y="381.90" font-size="9.8" class="t" text-anchor="end">100%</text>
<line x1="94.55" y1="501.50" x2="94.55" y2="504.10" stroke="#000" stroke-width="1.6"/>
<line x1="127.85" y1="501.50" x2="127.85" y2="504.10" stroke="#000" stroke-width="1.6"/>
<line x1="161.15" y1="501.50" x2="161.15" y2="504.10" stroke="#000" stroke-width="1.6"/>
<line x1="194.45" y1="501.50" x2="194.45" y2="504.10" stroke="#000" stroke-width="1.6"/>
<text x="80.70" y="511.30" font-size="8.3" class="t" text-anchor="end" transform="rotate(-45 80.70 511.30)">DMSO</text>
<text x="114.00" y="511.30" font-size="8.3" class="t" text-anchor="end" transform="rotate(-45 114.00 511.30)">IM</text>
<text x="147.30" y="511.30" font-size="8.3" class="t" text-anchor="end" transform="rotate(-45 147.30 511.30)">VP</text>
<text x="180.90" y="511.30" font-size="8.3" class="t" text-anchor="end" transform="rotate(-45 180.90 511.30)">VP+IM</text>
<rect x="213.80" y="382.90" width="5.80" height="5.80" fill="#000" stroke="#000" stroke-width="0.4" rx="0.8"/>
<text x="220.40" y="388.50" font-size="7.9" class="t">S</text>
<rect x="213.80" y="397.10" width="5.80" height="5.80" fill="#000" stroke="#000" stroke-width="0.4" rx="0.8"/>
<rect x="215.70" y="399.10" width="1.80" height="1.80" fill="#fff" stroke="none" stroke-width="0"/>
<text x="220.40" y="402.70" font-size="7.9" class="t">G2/M</text>
<rect x="213.80" y="411.40" width="5.80" height="5.80" fill="#000" stroke="#000" stroke-width="0.4" rx="0.8"/>
<rect x="215.70" y="413.40" width="1.80" height="1.80" fill="#a6a6a6" stroke="none" stroke-width="0"/>
<text x="220.40" y="417.00" font-size="7.9" class="t">G0/G1</text>
</g>
<g>
<text x="1.60" y="540.00" font-size="22" class="s">d</text>
<rect x="56.30" y="663.82" width="17.50" height="8.98" fill="#dcdcdc" stroke="#000" stroke-width="2.2"/>
<line x1="65.05" y1="663.82" x2="65.05" y2="662.28" stroke="#000" stroke-width="1.4"/>
<line x1="59.55" y1="662.28" x2="70.55" y2="662.28" stroke="#000" stroke-width="1.9"/>
<rect x="76.15" y="611.19" width="17.50" height="61.61" fill="#808080" stroke="#000" stroke-width="2.2"/>
<line x1="84.90" y1="611.19" x2="84.90" y2="608.37" stroke="#000" stroke-width="1.4"/>
<line x1="79.40" y1="608.37" x2="90.40" y2="608.37" stroke="#000" stroke-width="1.9"/>
<rect x="96.00" y="652.26" width="17.50" height="20.54" fill="#fff" stroke="#000" stroke-width="2.2"/>
<line x1="104.75" y1="652.26" x2="104.75" y2="650.98" stroke="#000" stroke-width="1.4"/>
<line x1="99.25" y1="650.98" x2="110.25" y2="650.98" stroke="#000" stroke-width="1.9"/>
<rect x="115.85" y="584.24" width="17.50" height="88.56" fill="#000" stroke="#000" stroke-width="2.2"/>
<line x1="124.60" y1="584.24" x2="124.60" y2="582.70" stroke="#000" stroke-width="1.4"/>
<line x1="119.10" y1="582.70" x2="130.10" y2="582.70" stroke="#000" stroke-width="1.9"/>
<rect x="152.90" y="661.89" width="17.50" height="10.91" fill="#dcdcdc" stroke="#000" stroke-width="2.2"/>
<line x1="161.65" y1="661.89" x2="161.65" y2="660.86" stroke="#000" stroke-width="1.4"/>
<line x1="156.15" y1="660.86" x2="167.15" y2="660.86" stroke="#000" stroke-width="1.9"/>
<rect x="172.75" y="630.44" width="17.50" height="42.36" fill="#808080" stroke="#000" stroke-width="2.2"/>
<line x1="181.50" y1="630.44" x2="181.50" y2="628.39" stroke="#000" stroke-width="1.4"/>
<line x1="176.00" y1="628.39" x2="187.00" y2="628.39" stroke="#000" stroke-width="1.9"/>
<rect x="192.60" y="649.70" width="17.50" height="23.10" fill="#fff" stroke="#000" stroke-width="2.2"/>
<line x1="201.35" y1="649.70" x2="201.35" y2="648.54" stroke="#000" stroke-width="1.4"/>
<line x1="195.85" y1="648.54" x2="206.85" y2="648.54" stroke="#000" stroke-width="1.9"/>
<rect x="212.45" y="593.22" width="17.50" height="79.58" fill="#000" stroke="#000" stroke-width="2.2"/>
<line x1="221.20" y1="593.22" x2="221.20" y2="589.12" stroke="#000" stroke-width="1.4"/>
<line x1="215.70" y1="589.12" x2="226.70" y2="589.12" stroke="#000" stroke-width="1.9"/>
<line x1="46.20" y1="543.50" x2="46.20" y2="673.80" stroke="#000" stroke-width="2"/>
<line x1="45.20" y1="672.80" x2="242.00" y2="672.80" stroke="#000" stroke-width="2"/>
<line x1="42.20" y1="672.80" x2="46.20" y2="672.80" stroke="#000" stroke-width="1.6"/>
<text x="41.40" y="676.30" font-size="10" class="s" text-anchor="end">0</text>
<line x1="42.20" y1="647.13" x2="46.20" y2="647.13" stroke="#000" stroke-width="1.6"/>
<text x="41.40" y="650.63" font-size="10" class="s" text-anchor="end">20</text>
<line x1="42.20" y1="621.46" x2="46.20" y2="621.46" stroke="#000" stroke-width="1.6"/>
<text x="41.40" y="624.96" font-size="10" class="s" text-anchor="end">40</text>
<line x1="42.20" y1="595.79" x2="46.20" y2="595.79" stroke="#000" stroke-width="1.6"/>
<text x="41.40" y="599.29" font-size="10" class="s" text-anchor="end">60</text>
<line x1="42.20" y1="570.12" x2="46.20" y2="570.12" stroke="#000" stroke-width="1.6"/>
<text x="41.40" y="573.62" font-size="10" class="s" text-anchor="end">80</text>
<line x1="42.20" y1="544.45" x2="46.20" y2="544.45" stroke="#000" stroke-width="1.6"/>
<text x="41.40" y="547.95" font-size="10" class="s" text-anchor="end">100</text>
<line x1="93.40" y1="672.80" x2="93.40" y2="676.80" stroke="#000" stroke-width="1.6"/>
<line x1="191.50" y1="672.80" x2="191.50" y2="676.80" stroke="#000" stroke-width="1.6"/>
<text x="95.00" y="687.80" font-size="10.8" class="s" text-anchor="middle" textLength="25.4" lengthAdjust="spacingAndGlyphs">K562</text>
<text x="191.50" y="687.80" font-size="10.8" class="s" text-anchor="middle" textLength="48.6" lengthAdjust="spacingAndGlyphs">K562/G01</text>
<text x="19.80" y="607.80" font-size="10.6" class="s" text-anchor="middle" transform="rotate(-90 19.80 607.80)" textLength="89.6" lengthAdjust="spacingAndGlyphs">Apoptotic cell (%)</text>
<rect x="59.30" y="541.95" width="14.20" height="5.50" fill="#dcdcdc" stroke="#000" stroke-width="2.3"/>
<text x="80.80" y="547.90" font-size="9.0" class="s" textLength="27.3" lengthAdjust="spacingAndGlyphs">DMSO</text>
<rect x="59.30" y="556.75" width="14.20" height="5.50" fill="#808080" stroke="#000" stroke-width="2.3"/>
<text x="80.80" y="562.70" font-size="9.0" class="s">IM</text>
<rect x="59.30" y="571.45" width="14.20" height="5.50" fill="#fff" stroke="#000" stroke-width="2.3"/>
<text x="80.80" y="577.40" font-size="9.0" class="s">VP</text>
<rect x="59.30" y="586.25" width="14.20" height="5.50" fill="#000" stroke="#000" stroke-width="2.3"/>
<text x="80.80" y="592.20" font-size="9.0" class="s">VP+IM</text>
<text x="84.50" y="609.80" font-size="12.5" class="s" text-anchor="middle">**</text>
<text x="104.80" y="652.80" font-size="12.5" class="s" text-anchor="middle">*</text>
<text x="124.50" y="583.00" font-size="12.5" class="s" text-anchor="middle">**</text>
<text x="124.50" y="570.20" font-size="7.8" class="s" text-anchor="middle">#</text>
<text x="181.60" y="630.50" font-size="12.5" class="s" text-anchor="middle">*</text>
<text x="200.90" y="651.30" font-size="12.5" class="s" text-anchor="middle">*</text>
<text x="222.00" y="591.50" font-size="12.5" class="s" text-anchor="middle">*</text>
<text x="222.60" y="579.00" font-size="7.8" class="s" text-anchor="middle">#</text>
</g>
<g>
<text x="286.70" y="379.30" font-size="23.5" class="s">e</text>
<text x="379.00" y="396.50" font-size="13" class="s" text-anchor="middle" textLength="31.3" lengthAdjust="spacingAndGlyphs">K562</text>
<text x="471.40" y="396.50" font-size="13" class="s" text-anchor="middle" textLength="56.2" lengthAdjust="spacingAndGlyphs">K562G01</text>
<line x1="336.40" y1="403.90" x2="421.10" y2="403.90" stroke="#222" stroke-width="1.3"/>
<line x1="430.10" y1="404.10" x2="515.00" y2="404.10" stroke="#222" stroke-width="1.3"/>
<text x="345.40" y="434.00" font-size="10.2" class="s" font-weight="normal" transform="rotate(-45 345.40 434.00)" stroke="#000" stroke-width="0.35">DMSO</text>
<text x="363.20" y="433.60" font-size="10.2" class="s" font-weight="normal" transform="rotate(-45 363.20 433.60)" stroke="#000" stroke-width="0.35">IM</text>
<text x="383.00" y="433.60" font-size="10.2" class="s" font-weight="normal" transform="rotate(-45 383.00 433.60)" stroke="#000" stroke-width="0.35">VP</text>
<text x="405.00" y="435.00" font-size="10.2" class="s" font-weight="normal" transform="rotate(-45 405.00 435.00)" stroke="#000" stroke-width="0.35">VP+IM</text>
<text x="442.40" y="434.00" font-size="10.2" class="s" font-weight="normal" transform="rotate(-45 442.40 434.00)" stroke="#000" stroke-width="0.35">DMSO</text>
<text x="461.20" y="434.00" font-size="10.2" class="s" font-weight="normal" transform="rotate(-45 461.20 434.00)" stroke="#000" stroke-width="0.35">IM</text>
<text x="480.20" y="432.80" font-size="10.2" class="s" font-weight="normal" transform="rotate(-45 480.20 432.80)" stroke="#000" stroke-width="0.35">VP</text>
<text x="502.40" y="434.00" font-size="10.2" class="s" font-weight="normal" transform="rotate(-45 502.40 434.00)" stroke="#000" stroke-width="0.35">VP+IM</text>
<clipPath id="cl0"><rect x="333.7" y="437.7" width="85.1" height="27.6"/></clipPath>
<clipPath id="cr0"><rect x="427.5" y="437.7" width="85.6" height="27.6"/></clipPath>
<clipPath id="cl1"><rect x="333.7" y="468.5" width="85.1" height="27.9"/></clipPath>
<clipPath id="cr1"><rect x="427.5" y="468.5" width="85.6" height="27.9"/></clipPath>
<clipPath id="cl2"><rect x="333.7" y="499.9" width="85.1" height="28.0"/></clipPath>
<clipPath id="cr2"><rect x="427.5" y="499.9" width="85.6" height="28.0"/></clipPath>
<clipPath id="cl3"><rect x="333.7" y="531.2" width="85.1" height="27.0"/></clipPath>
<clipPath id="cr3"><rect x="427.5" y="531.2" width="85.6" height="27.0"/></clipPath>
<clipPath id="cl4"><rect x="333.7" y="561.5" width="85.1" height="35.9"/></clipPath>
<clipPath id="cr4"><rect x="427.5" y="561.5" width="85.6" height="35.9"/></clipPath>
<clipPath id="cl5"><rect x="333.7" y="601.2" width="85.1" height="47.1"/></clipPath>
<clipPath id="cr5"><rect x="427.5" y="601.2" width="85.6" height="47.1"/></clipPath>
<clipPath id="cl6"><rect x="333.7" y="652" width="85.1" height="27.3"/></clipPath>
<clipPath id="cr6"><rect x="427.5" y="652" width="85.6" height="27.3"/></clipPath>
<clipPath id="cl7"><rect x="333.7" y="683.3" width="85.1" height="27.7"/></clipPath>
<clipPath id="cr7"><rect x="427.5" y="683.3" width="85.6" height="27.7"/></clipPath>
<rect x="333.70" y="437.70" width="85.10" height="27.60" fill="#eeeeee" stroke="none" stroke-width="0"/>
<g clip-path="url(#cl0)">
<rect x="337.0" y="443.8" width="18.5" height="5.0" rx="4.0" ry="2.5" fill="#000" opacity="1" filter="url(#bl)" transform="rotate(7 346.2 446.3)"/>
<rect x="358.6" y="448.2" width="15.5" height="3.0" rx="2.4" ry="1.5" fill="#000" opacity="0.95" filter="url(#bl)"/>
<rect x="378.1" y="446.9" width="16.5" height="3.6" rx="2.9" ry="1.8" fill="#000" opacity="0.97" filter="url(#bl)"/>
<rect x="399.6" y="447.3" width="14.0" height="2.4" rx="1.9" ry="1.2" fill="#000" opacity="0.85" filter="url(#bl)"/>
</g>
<rect x="333.70" y="437.70" width="85.10" height="27.60" fill="none" stroke="#1c1c1c" stroke-width="1.15"/>
<rect x="427.50" y="437.70" width="85.60" height="27.60" fill="#e9e9e9" stroke="none" stroke-width="0"/>
<g clip-path="url(#cr0)">
<rect x="431.1" y="445.2" width="18.5" height="4.2" rx="3.4" ry="2.1" fill="#000" opacity="1" filter="url(#bl)"/>
<rect x="454.5" y="447.5" width="14.0" height="2.4" rx="1.9" ry="1.2" fill="#000" opacity="0.65" filter="url(#bl)"/>
<rect x="474.0" y="447.0" width="16.0" height="3.0" rx="2.4" ry="1.5" fill="#000" opacity="0.9" filter="url(#bl)"/>
<rect x="496.4" y="447.6" width="14.0" height="2.5" rx="2.0" ry="1.2" fill="#000" opacity="0.65" filter="url(#bl)"/>
</g>
<rect x="427.50" y="437.70" width="85.60" height="27.60" fill="none" stroke="#1c1c1c" stroke-width="1.15"/>
<rect x="333.70" y="468.50" width="85.10" height="27.90" fill="#ececec" stroke="none" stroke-width="0"/>
<g clip-path="url(#cl1)">
<rect x="336.6" y="475.2" width="16.5" height="4.0" rx="3.2" ry="2.0" fill="#000" opacity="1" filter="url(#bl)"/>
<rect x="337.3" y="481.9" width="15.0" height="2.2" rx="1.8" ry="1.1" fill="#000" opacity="0.16" filter="url(#bl2)"/>
<rect x="357.9" y="475.4" width="14.0" height="3.4" rx="2.7" ry="1.7" fill="#000" opacity="0.92" filter="url(#bl)" transform="rotate(-10 364.9 477.1)"/>
<rect x="360.9" y="478.5" width="5.0" height="3.2" rx="2.6" ry="1.6" fill="#000" opacity="0.6" filter="url(#bl)"/>
<rect x="378.9" y="473.7" width="9.0" height="2.4" rx="1.9" ry="1.2" fill="#000" opacity="0.85" filter="url(#bl)" transform="rotate(-4 383.4 474.9)"/>
<rect x="386.4" y="475.0" width="7.0" height="2.2" rx="1.8" ry="1.1" fill="#000" opacity="0.7" filter="url(#bl)" transform="rotate(14 389.9 476.1)"/>
<rect x="401.1" y="477.1" width="15.0" height="2.8" rx="2.2" ry="1.4" fill="#000" opacity="0.55" filter="url(#bl)"/>
<rect x="402.1" y="478.0" width="5.0" height="2.6" rx="2.1" ry="1.3" fill="#000" opacity="0.35" filter="url(#bl)"/>
<rect x="412.1" y="477.0" width="2.2" height="9.0" rx="1.8" ry="1.1" fill="#000" opacity="0.26" filter="url(#bl2)"/>
<rect x="412.4" y="475.0" width="2.0" height="3.0" rx="1.6" ry="1.0" fill="#000" opacity="0.45" filter="url(#bl)"/>
</g>
<rect x="333.70" y="468.50" width="85.10" height="27.90" fill="none" stroke="#1c1c1c" stroke-width="1.15"/>
<rect x="427.50" y="468.50" width="85.60" height="27.90" fill="#e7e7e7" stroke="none" stroke-width="0"/>
<g clip-path="url(#cr1)">
<rect x="431.6" y="476.0" width="16.5" height="3.8" rx="3.0" ry="1.9" fill="#000" opacity="1" filter="url(#bl)"/>
<rect x="452.2" y="475.9" width="17.5" height="3.6" rx="2.9" ry="1.8" fill="#000" opacity="0.97" filter="url(#bl)"/>
<rect x="475.2" y="476.4" width="13.5" height="2.2" rx="1.8" ry="1.1" fill="#000" opacity="0.6" filter="url(#bl)"/>
<rect x="497.9" y="477.2" width="13.0" height="1.8" rx="1.4" ry="0.9" fill="#000" opacity="0.28" filter="url(#bl)"/>
<rect x="455.5" y="481.5" width="12.0" height="4.0" rx="3.2" ry="2.0" fill="#000" opacity="0.08" filter="url(#bl2)"/>
</g>
<rect x="427.50" y="468.50" width="85.60" height="27.90" fill="none" stroke="#1c1c1c" stroke-width="1.15"/>
<rect x="333.70" y="499.90" width="85.10" height="28.00" fill="#dfdfdf" stroke="none" stroke-width="0"/>
<g clip-path="url(#cl2)">
<rect x="337.1" y="496.9" width="17.0" height="34.0" rx="13.6" ry="8.5" fill="#000" opacity="0.07" filter="url(#bl2)"/>
<rect x="357.9" y="496.9" width="17.0" height="34.0" rx="13.6" ry="8.5" fill="#000" opacity="0.07" filter="url(#bl2)"/>
<rect x="377.9" y="496.9" width="17.0" height="34.0" rx="13.6" ry="8.5" fill="#000" opacity="0.07" filter="url(#bl2)"/>
<rect x="398.1" y="496.9" width="17.0" height="34.0" rx="13.6" ry="8.5" fill="#000" opacity="0.07" filter="url(#bl2)"/>
<rect x="336.1" y="509.8" width="15.0" height="2.2" rx="1.8" ry="1.1" fill="#000" opacity="0.45" filter="url(#bl)" transform="rotate(5 343.6 510.9)"/>
<rect x="357.9" y="508.8" width="15.0" height="3.4" rx="2.7" ry="1.7" fill="#000" opacity="0.85" filter="url(#bl)"/>
<rect x="362.9" y="506.8" width="5.0" height="3.0" rx="2.4" ry="1.5" fill="#000" opacity="0.5" filter="url(#bl)"/>
<rect x="378.6" y="510.4" width="14.5" height="2.2" rx="1.8" ry="1.1" fill="#000" opacity="0.5" filter="url(#bl)"/>
<rect x="399.1" y="509.7" width="17.0" height="3.2" rx="2.6" ry="1.6" fill="#000" opacity="0.88" filter="url(#bl)"/>
<rect x="331.0" y="515.7" width="90.0" height="2.4" rx="1.9" ry="1.2" fill="#000" opacity="0.1" filter="url(#bl2)"/>
<rect x="331.0" y="520.2" width="90.0" height="2.4" rx="1.9" ry="1.2" fill="#000" opacity="0.08" filter="url(#bl2)"/>
<rect x="331.0" y="523.7" width="90.0" height="2.4" rx="1.9" ry="1.2" fill="#000" opacity="0.06" filter="url(#bl2)"/>
<rect x="331.0" y="503.4" width="90.0" height="2.0" rx="1.6" ry="1.0" fill="#000" opacity="0.05" filter="url(#bl2)"/>
</g>
<rect x="333.70" y="499.90" width="85.10" height="28.00" fill="none" stroke="#1c1c1c" stroke-width="1.15"/>
<rect x="427.50" y="499.90" width="85.60" height="28.00" fill="#dadada" stroke="none" stroke-width="0"/>
<g clip-path="url(#cr2)">
<rect x="431.8" y="496.9" width="17.0" height="34.0" rx="13.6" ry="8.5" fill="#000" opacity="0.07" filter="url(#bl2)"/>
<rect x="453.0" y="496.9" width="17.0" height="34.0" rx="13.6" ry="8.5" fill="#000" opacity="0.07" filter="url(#bl2)"/>
<rect x="473.5" y="496.9" width="17.0" height="34.0" rx="13.6" ry="8.5" fill="#000" opacity="0.07" filter="url(#bl2)"/>
<rect x="494.9" y="496.9" width="17.0" height="34.0" rx="13.6" ry="8.5" fill="#000" opacity="0.07" filter="url(#bl2)"/>
<rect x="431.8" y="510.8" width="15.0" height="2.2" rx="1.8" ry="1.1" fill="#000" opacity="0.4" filter="url(#bl)"/>
<rect x="452.5" y="509.4" width="16.0" height="3.0" rx="2.4" ry="1.5" fill="#000" opacity="0.85" filter="url(#bl)"/>
<rect x="474.2" y="509.4" width="15.5" height="3.0" rx="2.4" ry="1.5" fill="#000" opacity="0.85" filter="url(#bl)"/>
<rect x="495.9" y="508.2" width="16.0" height="3.8" rx="3.0" ry="1.9" fill="#000" opacity="0.97" filter="url(#bl)"/>
<rect x="425.0" y="514.9" width="90.0" height="5.0" rx="4.0" ry="2.5" fill="#000" opacity="0.1" filter="url(#bl2)"/>
<rect x="425.0" y="502.4" width="90.0" height="3.0" rx="2.4" ry="1.5" fill="#000" opacity="0.05" filter="url(#bl2)"/>
</g>
<rect x="427.50" y="499.90" width="85.60" height="28.00" fill="none" stroke="#1c1c1c" stroke-width="1.15"/>
<rect x="333.70" y="531.20" width="85.10" height="27.00" fill="#ebebeb" stroke="none" stroke-width="0"/>
<g clip-path="url(#cl3)">
<rect x="334.6" y="539.9" width="19.0" height="3.8" rx="3.0" ry="1.9" fill="#000" opacity="0.9" filter="url(#bl)" transform="rotate(7 344.1 541.8)"/>
<rect x="355.9" y="542.6" width="20.0" height="3.0" rx="2.4" ry="1.5" fill="#000" opacity="0.78" filter="url(#bl)" transform="rotate(-3 365.9 544.1)"/>
<rect x="377.9" y="542.4" width="18.0" height="2.8" rx="2.2" ry="1.4" fill="#000" opacity="0.75" filter="url(#bl)"/>
<rect x="398.1" y="543.5" width="17.0" height="2.2" rx="1.8" ry="1.1" fill="#000" opacity="0.55" filter="url(#bl)"/>
</g>
<rect x="333.70" y="531.20" width="85.10" height="27.00" fill="none" stroke="#1c1c1c" stroke-width="1.15"/>
<rect x="427.50" y="531.20" width="85.60" height="27.00" fill="#ebebeb" stroke="none" stroke-width="0"/>
<g clip-path="url(#cr3)">
<rect x="430.1" y="540.4" width="18.5" height="4.2" rx="3.4" ry="2.1" fill="#000" opacity="1" filter="url(#bl)" transform="rotate(3 439.3 542.5)"/>
<rect x="453.5" y="541.3" width="14.0" height="3.0" rx="2.4" ry="1.5" fill="#000" opacity="0.8" filter="url(#bl)" transform="rotate(-6 460.5 542.8)"/>
<rect x="472.0" y="540.5" width="19.0" height="4.0" rx="3.2" ry="2.0" fill="#000" opacity="1" filter="url(#bl)"/>
<rect x="497.4" y="540.8" width="16.0" height="1.6" rx="1.3" ry="0.8" fill="#000" opacity="0.16" filter="url(#bl)"/>
</g>
<rect x="427.50" y="531.20" width="85.60" height="27.00" fill="none" stroke="#1c1c1c" stroke-width="1.15"/>
<rect x="333.70" y="561.50" width="85.10" height="35.90" fill="#e2e2e2" stroke="none" stroke-width="0"/>
<g clip-path="url(#cl4)">
<rect x="335.9" y="572.5" width="18.5" height="5.6" rx="4.5" ry="2.8" fill="#000" opacity="1" filter="url(#bl)"/>
<rect x="356.9" y="571.4" width="18.0" height="6.2" rx="5.0" ry="3.1" fill="#000" opacity="0.95" filter="url(#bl)"/>
<rect x="359.5" y="569.1" width="4.6" height="4.0" rx="3.2" ry="2.0" fill="#f8f8f8" opacity="1" filter="url(#bl)"/>
<rect x="377.4" y="572.5" width="18.0" height="6.0" rx="4.8" ry="3.0" fill="#000" opacity="1" filter="url(#bl)"/>
<rect x="400.1" y="572.6" width="15.0" height="3.0" rx="2.4" ry="1.5" fill="#000" opacity="0.22" filter="url(#bl2)"/>
<rect x="357.1" y="584.4" width="18.5" height="4.8" rx="3.8" ry="2.4" fill="#000" opacity="1" filter="url(#bl)"/>
<rect x="397.4" y="584.5" width="19.5" height="5.2" rx="4.2" ry="2.6" fill="#000" opacity="1" filter="url(#bl)"/>
<rect x="379.4" y="584.8" width="13.0" height="2.6" rx="2.1" ry="1.3" fill="#000" opacity="0.15" filter="url(#bl2)"/>
<rect x="337.1" y="583.3" width="13.0" height="2.4" rx="1.9" ry="1.2" fill="#000" opacity="0.06" filter="url(#bl2)"/>
</g>
<rect x="333.70" y="561.50" width="85.10" height="35.90" fill="none" stroke="#1c1c1c" stroke-width="1.15"/>
<rect x="427.50" y="561.50" width="85.60" height="35.90" fill="#dbdbdb" stroke="none" stroke-width="0"/>
<g clip-path="url(#cr4)">
<rect x="431.3" y="558.5" width="18.0" height="41.9" rx="14.4" ry="9.0" fill="#000" opacity="0.15" filter="url(#bl2)"/>
<rect x="452.5" y="558.5" width="18.0" height="41.9" rx="14.4" ry="9.0" fill="#000" opacity="0.15" filter="url(#bl2)"/>
<rect x="473.0" y="558.5" width="18.0" height="41.9" rx="14.4" ry="9.0" fill="#000" opacity="0.15" filter="url(#bl2)"/>
<rect x="494.4" y="558.5" width="18.0" height="41.9" rx="14.4" ry="9.0" fill="#000" opacity="0.15" filter="url(#bl2)"/>
<rect x="430.6" y="573.0" width="18.5" height="5.0" rx="4.0" ry="2.5" fill="#000" opacity="1" filter="url(#bl)"/>
<rect x="453.1" y="572.9" width="16.5" height="4.8" rx="3.8" ry="2.4" fill="#000" opacity="0.97" filter="url(#bl)"/>
<rect x="473.8" y="573.5" width="16.0" height="4.8" rx="3.8" ry="2.4" fill="#000" opacity="0.95" filter="url(#bl)"/>
<rect x="494.4" y="572.3" width="17.0" height="5.2" rx="4.2" ry="2.6" fill="#000" opacity="0.95" filter="url(#bl)" transform="rotate(-7 502.9 574.9)"/>
<rect x="505.4" y="570.9" width="6.0" height="6.0" rx="4.8" ry="3.0" fill="#000" opacity="0.8" filter="url(#bl)"/>
<rect x="494.7" y="582.2" width="17.0" height="3.8" rx="3.0" ry="1.9" fill="#000" opacity="0.95" filter="url(#bl)" transform="rotate(-4 503.2 584.1)"/>
<rect x="454.0" y="583.1" width="15.0" height="2.0" rx="1.6" ry="1.0" fill="#000" opacity="0.2" filter="url(#bl2)"/>
<rect x="474.5" y="583.5" width="15.0" height="2.0" rx="1.6" ry="1.0" fill="#000" opacity="0.16" filter="url(#bl2)"/>
<rect x="432.8" y="582.5" width="15.0" height="2.0" rx="1.6" ry="1.0" fill="#000" opacity="0.12" filter="url(#bl2)"/>
<rect x="425.0" y="593.0" width="90.0" height="3.0" rx="2.4" ry="1.5" fill="#000" opacity="0.16" filter="url(#bl2)"/>
<rect x="425.0" y="564.0" width="90.0" height="4.0" rx="3.2" ry="2.0" fill="#000" opacity="0.07" filter="url(#bl2)"/>
</g>
<rect x="427.50" y="561.50" width="85.60" height="35.90" fill="none" stroke="#1c1c1c" stroke-width="1.15"/>
<rect x="333.70" y="601.20" width="85.10" height="47.10" fill="#e8e8e8" stroke="none" stroke-width="0"/>
<g clip-path="url(#cl5)">
<rect x="335.4" y="606.9" width="18.5" height="5.6" rx="4.5" ry="2.8" fill="#000" opacity="1" filter="url(#bl)"/>
<rect x="357.4" y="609.0" width="17.0" height="4.4" rx="3.5" ry="2.2" fill="#000" opacity="0.97" filter="url(#bl)" transform="rotate(-3 365.9 611.2)"/>
<rect x="359.9" y="607.2" width="9.0" height="2.4" rx="1.9" ry="1.2" fill="#000" opacity="0.5" filter="url(#bl)"/>
<rect x="377.1" y="607.7" width="17.5" height="5.4" rx="4.3" ry="2.7" fill="#000" opacity="1" filter="url(#bl)"/>
<rect x="398.1" y="610.2" width="12.0" height="2.4" rx="1.9" ry="1.2" fill="#000" opacity="0.75" filter="url(#bl)" transform="rotate(-5 404.1 611.4)"/>
<rect x="410.1" y="608.0" width="5.0" height="4.5" rx="3.6" ry="2.2" fill="#000" opacity="0.35" filter="url(#bl)"/>
<rect x="338.1" y="614.6" width="15.0" height="2.4" rx="1.9" ry="1.2" fill="#000" opacity="0.12" filter="url(#bl2)"/>
<rect x="359.4" y="615.6" width="14.0" height="2.4" rx="1.9" ry="1.2" fill="#000" opacity="0.12" filter="url(#bl2)"/>
<rect x="378.9" y="615.0" width="15.0" height="2.4" rx="1.9" ry="1.2" fill="#000" opacity="0.14" filter="url(#bl2)"/>
<rect x="399.6" y="615.7" width="14.0" height="2.2" rx="1.8" ry="1.1" fill="#000" opacity="0.12" filter="url(#bl2)"/>
<rect x="359.4" y="634.5" width="13.0" height="2.0" rx="1.6" ry="1.0" fill="#000" opacity="0.3" filter="url(#bl)"/>
<rect x="356.7" y="638.8" width="19.0" height="3.2" rx="2.6" ry="1.6" fill="#000" opacity="0.55" filter="url(#bl)"/>
<rect x="359.7" y="639.9" width="13.0" height="1.1" rx="0.9" ry="0.6" fill="#e4e4e4" opacity="0.6" filter="url(#bl)"/>
<rect x="399.4" y="633.3" width="15.5" height="3.8" rx="3.0" ry="1.9" fill="#000" opacity="0.6" filter="url(#bl)"/>
<rect x="396.1" y="638.5" width="22.0" height="3.4" rx="2.7" ry="1.7" fill="#000" opacity="0.75" filter="url(#bl)"/>
<rect x="399.1" y="639.7" width="14.0" height="1.0" rx="0.8" ry="0.5" fill="#dcdcdc" opacity="0.5" filter="url(#bl)"/>
<rect x="399.6" y="644.0" width="14.0" height="1.6" rx="1.3" ry="0.8" fill="#000" opacity="0.14" filter="url(#bl2)"/>
<rect x="359.4" y="644.0" width="14.0" height="1.6" rx="1.3" ry="0.8" fill="#000" opacity="0.08" filter="url(#bl2)"/>
</g>
<rect x="333.70" y="601.20" width="85.10" height="47.10" fill="none" stroke="#1c1c1c" stroke-width="1.15"/>
<rect x="427.50" y="601.20" width="85.60" height="47.10" fill="#e0e0e0" stroke="none" stroke-width="0"/>
<g clip-path="url(#cr5)">
<rect x="430.4" y="611.5" width="19.5" height="5.8" rx="4.6" ry="2.9" fill="#000" opacity="1" filter="url(#bl)"/>
<rect x="453.0" y="612.1" width="17.0" height="4.2" rx="3.4" ry="2.1" fill="#000" opacity="0.97" filter="url(#bl)"/>
<rect x="472.8" y="611.7" width="17.5" height="5.4" rx="4.3" ry="2.7" fill="#000" opacity="1" filter="url(#bl)"/>
<rect x="496.4" y="613.1" width="15.0" height="2.6" rx="2.1" ry="1.3" fill="#000" opacity="0.6" filter="url(#bl)"/>
<rect x="454.5" y="607.1" width="13.0" height="1.8" rx="1.4" ry="0.9" fill="#000" opacity="0.25" filter="url(#bl)"/>
<rect x="495.9" y="607.5" width="16.0" height="2.2" rx="1.8" ry="1.1" fill="#000" opacity="0.42" filter="url(#bl)" transform="rotate(-3 503.9 608.6)"/>
<rect x="433.3" y="618.8" width="14.0" height="2.0" rx="1.6" ry="1.0" fill="#000" opacity="0.12" filter="url(#bl2)"/>
<rect x="475.0" y="618.8" width="14.0" height="2.0" rx="1.6" ry="1.0" fill="#000" opacity="0.12" filter="url(#bl2)"/>
<rect x="497.4" y="620.0" width="14.0" height="2.0" rx="1.6" ry="1.0" fill="#000" opacity="0.1" filter="url(#bl2)"/>
<rect x="453.8" y="633.6" width="14.5" height="2.0" rx="1.6" ry="1.0" fill="#000" opacity="0.42" filter="url(#bl)"/>
<rect x="451.5" y="637.3" width="19.0" height="2.2" rx="1.8" ry="1.1" fill="#000" opacity="0.48" filter="url(#bl)"/>
<rect x="494.9" y="632.7" width="18.0" height="3.0" rx="2.4" ry="1.5" fill="#000" opacity="0.55" filter="url(#bl)"/>
<rect x="493.4" y="637.6" width="21.0" height="2.4" rx="1.9" ry="1.2" fill="#000" opacity="0.55" filter="url(#bl)"/>
</g>
<rect x="427.50" y="601.20" width="85.60" height="47.10" fill="none" stroke="#1c1c1c" stroke-width="1.15"/>
<rect x="333.70" y="652.00" width="85.10" height="27.30" fill="#dadada" stroke="none" stroke-width="0"/>
<g clip-path="url(#cl6)">
<rect x="336.9" y="661.4" width="13.5" height="2.4" rx="1.9" ry="1.2" fill="#000" opacity="0.92" filter="url(#bl)" transform="rotate(6 343.6 662.6)"/>
<rect x="357.4" y="659.1" width="15.0" height="5.0" rx="4.0" ry="2.5" fill="#000" opacity="0.97" filter="url(#bl)" transform="rotate(4 364.9 661.6)"/>
<rect x="358.4" y="661.5" width="5.0" height="4.2" rx="3.4" ry="2.1" fill="#000" opacity="0.85" filter="url(#bl)"/>
<rect x="377.4" y="664.5" width="16.0" height="3.4" rx="2.7" ry="1.7" fill="#000" opacity="0.95" filter="url(#bl)"/>
<rect x="395.6" y="661.8" width="20.0" height="5.2" rx="4.2" ry="2.6" fill="#000" opacity="1" filter="url(#bl)"/>
<rect x="399.1" y="653.5" width="3.0" height="9.0" rx="2.4" ry="1.5" fill="#000" opacity="0.3" filter="url(#bl2)"/>
<rect x="409.1" y="653.5" width="3.0" height="9.0" rx="2.4" ry="1.5" fill="#000" opacity="0.3" filter="url(#bl2)"/>
<rect x="398.1" y="657.0" width="15.0" height="6.0" rx="4.8" ry="3.0" fill="#000" opacity="0.4" filter="url(#bl2)"/>
<rect x="331.0" y="669.5" width="90.0" height="5.0" rx="4.0" ry="2.5" fill="#000" opacity="0.06" filter="url(#bl2)"/>
</g>
<rect x="333.70" y="652.00" width="85.10" height="27.30" fill="none" stroke="#1c1c1c" stroke-width="1.15"/>
<rect x="427.50" y="652.00" width="85.60" height="27.30" fill="#dcdcdc" stroke="none" stroke-width="0"/>
<g clip-path="url(#cr6)">
<rect x="431.6" y="664.2" width="15.5" height="2.8" rx="2.2" ry="1.4" fill="#000" opacity="0.9" filter="url(#bl)"/>
<rect x="452.0" y="662.8" width="18.0" height="4.0" rx="3.2" ry="2.0" fill="#000" opacity="1" filter="url(#bl)"/>
<rect x="473.2" y="663.3" width="16.5" height="3.4" rx="2.7" ry="1.7" fill="#000" opacity="0.97" filter="url(#bl)"/>
<rect x="494.4" y="662.1" width="18.0" height="4.6" rx="3.7" ry="2.3" fill="#000" opacity="1" filter="url(#bl)"/>
<rect x="497.9" y="652.5" width="3.0" height="9.0" rx="2.4" ry="1.5" fill="#000" opacity="0.15" filter="url(#bl2)"/>
<rect x="505.9" y="652.5" width="3.0" height="9.0" rx="2.4" ry="1.5" fill="#000" opacity="0.15" filter="url(#bl2)"/>
<rect x="495.9" y="654.5" width="15.0" height="8.0" rx="6.4" ry="4.0" fill="#000" opacity="0.3" filter="url(#bl2)"/>
<rect x="425.0" y="670.5" width="90.0" height="5.0" rx="4.0" ry="2.5" fill="#000" opacity="0.05" filter="url(#bl2)"/>
</g>
<rect x="427.50" y="652.00" width="85.60" height="27.30" fill="none" stroke="#1c1c1c" stroke-width="1.15"/>
<rect x="333.70" y="683.30" width="85.10" height="27.70" fill="#e6e6e6" stroke="none" stroke-width="0"/>
<g clip-path="url(#cl7)">
<rect x="335.9" y="689.0" width="17.5" height="4.2" rx="3.4" ry="2.1" fill="#000" opacity="1" filter="url(#bl)"/>
<rect x="357.4" y="690.4" width="17.0" height="4.2" rx="3.4" ry="2.1" fill="#000" opacity="1" filter="url(#bl)"/>
<rect x="377.9" y="690.6" width="16.0" height="3.8" rx="3.0" ry="1.9" fill="#000" opacity="1" filter="url(#bl)"/>
<rect x="397.6" y="688.7" width="17.0" height="4.8" rx="3.8" ry="2.4" fill="#000" opacity="1" filter="url(#bl)" transform="rotate(-5 406.1 691.1)"/>
<rect x="339.1" y="698.0" width="13.0" height="1.8" rx="1.4" ry="0.9" fill="#000" opacity="0.12" filter="url(#bl2)"/>
<rect x="359.9" y="698.4" width="13.0" height="1.8" rx="1.4" ry="0.9" fill="#000" opacity="0.1" filter="url(#bl2)"/>
</g>
<rect x="333.70" y="683.30" width="85.10" height="27.70" fill="none" stroke="#1c1c1c" stroke-width="1.15"/>
<rect x="427.50" y="683.30" width="85.60" height="27.70" fill="#e6e6e6" stroke="none" stroke-width="0"/>
<g clip-path="url(#cr7)">
<rect x="431.3" y="691.1" width="17.0" height="3.6" rx="2.9" ry="1.8" fill="#000" opacity="1" filter="url(#bl)"/>
<rect x="452.8" y="691.8" width="17.0" height="3.8" rx="3.0" ry="1.9" fill="#000" opacity="1" filter="url(#bl)"/>
<rect x="473.6" y="691.5" width="16.5" height="4.0" rx="3.2" ry="2.0" fill="#000" opacity="1" filter="url(#bl)"/>
<rect x="495.7" y="691.7" width="15.0" height="3.2" rx="2.6" ry="1.6" fill="#000" opacity="0.95" filter="url(#bl)"/>
<rect x="433.8" y="699.4" width="13.0" height="1.8" rx="1.4" ry="0.9" fill="#000" opacity="0.08" filter="url(#bl2)"/>
</g>
<rect x="427.50" y="683.30" width="85.60" height="27.70" fill="none" stroke="#1c1c1c" stroke-width="1.15"/>
<text x="280.90" y="452.00" font-size="10.5" class="s" textLength="29.8" lengthAdjust="spacingAndGlyphs">c-Myc</text>
<text x="279.20" y="483.30" font-size="10.5" class="s" textLength="41.8" lengthAdjust="spacingAndGlyphs">Survivin</text>
<text x="281.30" y="514.70" font-size="10.5" class="s" textLength="18.7" lengthAdjust="spacingAndGlyphs">P21</text>
<text x="280.90" y="544.90" font-size="10.5" class="s" textLength="44.4" lengthAdjust="spacingAndGlyphs">CyclinD1</text>
<text x="280.90" y="572.40" font-size="10.5" class="s" textLength="26.4" lengthAdjust="spacingAndGlyphs">PARP</text>
<text x="280.90" y="585.30" font-size="10.5" class="s" textLength="41.8" lengthAdjust="spacingAndGlyphs">Cleaved-</text>
<text x="280.90" y="597.30" font-size="10.5" class="s" textLength="26.4" lengthAdjust="spacingAndGlyphs">PARP</text>
<text x="280.90" y="619.00" font-size="10.5" class="s" textLength="46.7" lengthAdjust="spacingAndGlyphs">Caspase3</text>
<text x="280.90" y="637.70" font-size="10.5" class="s" textLength="41.8" lengthAdjust="spacingAndGlyphs">Cleaved-</text>
<text x="280.90" y="649.70" font-size="10.5" class="s" textLength="44.4" lengthAdjust="spacingAndGlyphs">caspase3</text>
<text x="281.30" y="668.90" font-size="11.2" class="s" textLength="20" lengthAdjust="spacingAndGlyphs">Bax</text>
<text x="280.40" y="697.70" font-size="10.6" class="s" textLength="25.9" lengthAdjust="spacingAndGlyphs">Actin</text>
<text x="526.30" y="452.30" font-size="12.8" class="s" textLength="33.8" lengthAdjust="spacingAndGlyphs">60KD</text>
<text x="526.60" y="486.00" font-size="12.8" class="s" textLength="33.6" lengthAdjust="spacingAndGlyphs">16KD</text>
<text x="526.30" y="516.70" font-size="12.8" class="s" textLength="33.8" lengthAdjust="spacingAndGlyphs">21KD</text>
<text x="526.30" y="548.00" font-size="12.8" class="s" textLength="33.8" lengthAdjust="spacingAndGlyphs">36KD</text>
<text x="525.70" y="579.10" font-size="12.8" class="s" textLength="40" lengthAdjust="spacingAndGlyphs">116KD</text>
<text x="526.30" y="592.00" font-size="12.8" class="s" textLength="33.8" lengthAdjust="spacingAndGlyphs">89KD</text>
<text x="525.40" y="615.30" font-size="12.8" class="s" textLength="33.3" lengthAdjust="spacingAndGlyphs">35KD</text>
<text x="525.40" y="632.40" font-size="12.8" class="s" textLength="33.3" lengthAdjust="spacingAndGlyphs">19KD</text>
<text x="525.40" y="645.30" font-size="12.8" class="s" textLength="33.3" lengthAdjust="spacingAndGlyphs">17KD</text>
<text x="525.00" y="669.30" font-size="12.8" class="s" textLength="33.7" lengthAdjust="spacingAndGlyphs">20KD</text>
<text x="526.30" y="697.70" font-size="12.8" class="s" textLength="33.7" lengthAdjust="spacingAndGlyphs">43KD</text>
</g>
</g></svg></body></html>
